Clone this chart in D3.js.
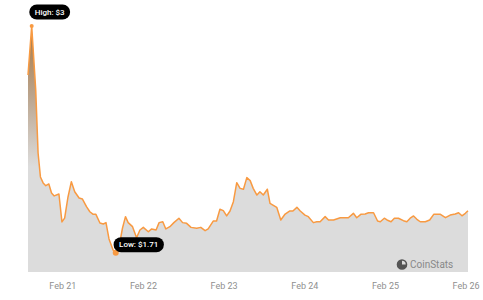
<!DOCTYPE html>
<html>
<head>
<meta charset="utf-8">
<script src="https://cdn.jsdelivr.net/npm/d3@7"></script>
<style>
  body { margin: 0; background: #fff; }
  #chart { font-family: Roboto, "Noto Sans", sans-serif; }
</style>
</head>
<body>
<div id="chart"></div>
<script>
// hours from Feb 21 00:00 and price in $
const hours = [-10.2, -9.1, -7.9, -7.2, -6.5, -5.7, -4.9, -4.0, -3.2, -2.4, -1.0, -0.1, 0.7, 1.7, 2.7, 3.7, 5.0, 6.0, 7.2, 8.2,
  9.2, 10.0, 11.2, 12.2, 13.0, 13.9, 15.1, 15.9, 16.9, 17.9, 18.8, 19.6, 20.9, 22.1, 23.1, 24.1, 25.6, 26.6, 27.9, 28.8,
  29.9, 30.8, 32.0, 33.2, 34.7, 35.8, 37.0, 38.3, 40.0, 41.2, 42.5, 43.4, 44.9, 45.9, 46.9, 47.9, 48.9, 49.9, 50.9, 51.9,
  52.9, 53.9, 54.9, 55.9, 56.8, 57.9, 58.8, 59.8, 61.0, 61.8, 63.8, 65.0, 66.3, 67.6, 68.6, 69.8, 70.8, 72.2, 73.2, 74.7,
  75.7, 76.7, 78.2, 79.2, 80.7, 82.7, 85.1, 86.6, 87.6, 88.8, 90.1, 91.1, 92.6, 93.8, 94.6, 95.8, 96.6, 97.8, 98.8, 100.0,
  101.5, 102.5, 103.5, 104.5, 105.5, 106.5, 108.0, 109.3, 110.5, 112.5, 114.0, 115.4, 116.9, 117.9, 118.9, 119.9, 120.7];
const prices = [2.721, 3.0, 2.636, 2.277, 2.141, 2.107, 2.091, 2.101, 2.050, 2.033, 2.044, 1.885, 1.907, 2.027, 2.114, 2.057, 2.021, 2.015, 1.972, 1.943,
  1.928, 1.928, 1.879, 1.873, 1.881, 1.788, 1.725, 1.71, 1.744, 1.849, 1.915, 1.881, 1.858, 1.795, 1.839, 1.854, 1.829, 1.845, 1.839, 1.881,
  1.886, 1.845, 1.858, 1.881, 1.906, 1.881, 1.877, 1.854, 1.849, 1.854, 1.835, 1.845, 1.890, 1.890, 1.957, 1.949, 1.919, 1.947, 2.000, 2.108,
  2.076, 2.071, 2.137, 2.120, 2.076, 2.038, 2.057, 2.038, 2.071, 1.991, 1.968, 1.896, 1.930, 1.947, 1.947, 1.968, 1.947, 1.924, 1.915, 1.881,
  1.886, 1.886, 1.915, 1.896, 1.896, 1.909, 1.909, 1.934, 1.909, 1.928, 1.930, 1.937, 1.937, 1.890, 1.886, 1.906, 1.896, 1.886, 1.906, 1.906,
  1.892, 1.886, 1.906, 1.919, 1.900, 1.886, 1.886, 1.896, 1.928, 1.928, 1.909, 1.924, 1.930, 1.937, 1.920, 1.934, 1.949];
const tickLabels = ['Feb 21', 'Feb 22', 'Feb 23', 'Feb 24', 'Feb 25', 'Feb 26'];
const tickHours = [0, 24, 48, 72, 96, 120];

const w = 483;
const h = 300;
const base = new Date(2021, 1, 21);
const toDate = (hr) => new Date(base.getTime() + hr * 3600e3);
const data = hours.map((hr, i) => ({ date: toDate(hr), price: prices[i] }));

const xScale = d3.scaleTime()
  .domain(d3.extent(data, d => d.date))
  .range([28, 468]);

const yScale = d3.scaleLinear()
  .domain([1.6, 3.0])
  .range([272, 26]);

const svg = d3.select('#chart')
  .append('svg')
  .attr('width', w)
  .attr('height', h);

const grad = svg.append('defs').append('linearGradient')
  .attr('id', 'fillGrad')
  .attr('gradientUnits', 'userSpaceOnUse')
  .attr('x1', 0).attr('x2', 0)
  .attr('y1', yScale(3.0)).attr('y2', yScale(2.2));
grad.append('stop').attr('offset', 0).attr('stop-color', '#a8763f');
grad.append('stop').attr('offset', 0.5).attr('stop-color', '#bba58e');
grad.append('stop').attr('offset', 1).attr('stop-color', '#dcdcdc');

const area = d3.area()
  .x(d => xScale(d.date))
  .y0(yScale(1.6))
  .y1(d => yScale(d.price));

const line = d3.line()
  .x(d => xScale(d.date))
  .y(d => yScale(d.price));

svg.append('path')
  .datum(data)
  .attr('d', area)
  .attr('fill', 'url(#fillGrad)');

svg.append('path')
  .datum(data)
  .attr('d', line)
  .attr('fill', 'none')
  .attr('stroke', '#f89a42')
  .attr('stroke-width', 1.5)
  .attr('stroke-linejoin', 'round');

// x axis labels
const xAxis = d3.axisBottom(xScale)
  .tickValues(tickHours.map(toDate))
  .tickFormat((d, i) => tickLabels[i])
  .tickSize(0)
  .tickPadding(0);

const gx = svg.append('g')
  .attr('transform', 'translate(0,283)')
  .call(xAxis);
gx.select('.domain').remove();
gx.selectAll('text')
  .attr('dy', '0.71em')
  .style('font-size', '9px')
  .style('font-family', 'Roboto, sans-serif')
  .attr('fill', '#8f8f8f');

// high / low markers
const hi = data[d3.maxIndex(data, d => d.price)];
const lo = data[d3.minIndex(data, d => d.price)];

svg.append('circle')
  .attr('cx', xScale(hi.date)).attr('cy', yScale(hi.price))
  .attr('r', 2).attr('fill', '#f89a42');
svg.append('circle')
  .attr('cx', xScale(lo.date)).attr('cy', yScale(lo.price))
  .attr('r', 3).attr('fill', '#f89a42');

function pill(x, y, label) {
  const g = svg.append('g').attr('transform', `translate(${x},${y})`);
  const t = g.append('text')
    .attr('x', 0).attr('y', 0)
    .attr('text-anchor', 'middle')
    .attr('dy', '0.35em')
    .attr('fill', '#fff')
    .style('font-size', '8px')
    .style('font-weight', '500')
    .text(label);
  const bw = t.node().getComputedTextLength() + 11;
  g.insert('rect', 'text')
    .attr('x', -bw / 2).attr('y', -7.5)
    .attr('width', bw).attr('height', 15)
    .attr('rx', 7.5)
    .attr('fill', '#000');
}

pill(xScale(hi.date) + 18, yScale(hi.price) - 14, 'High: $3');
pill(xScale(lo.date) + 23, yScale(lo.price) - 8, 'Low: $1.71');

// watermark
const wm = svg.append('g').attr('transform', 'translate(402,264.5)');
wm.append('circle').attr('r', 4.5).attr('fill', 'none').attr('stroke', '#555').attr('stroke-width', 1.6);
wm.append('path').attr('d', 'M0,0 L0,-4.5 A4.5,4.5 0 1 0 4.5,0 Z').attr('fill', '#555');
wm.append('text')
  .attr('x', 8).attr('y', 0).attr('dy', '0.35em')
  .attr('fill', '#888')
  .style('font-size', '10px')
  .text('CoinStats');
</script>
</body>
</html>
